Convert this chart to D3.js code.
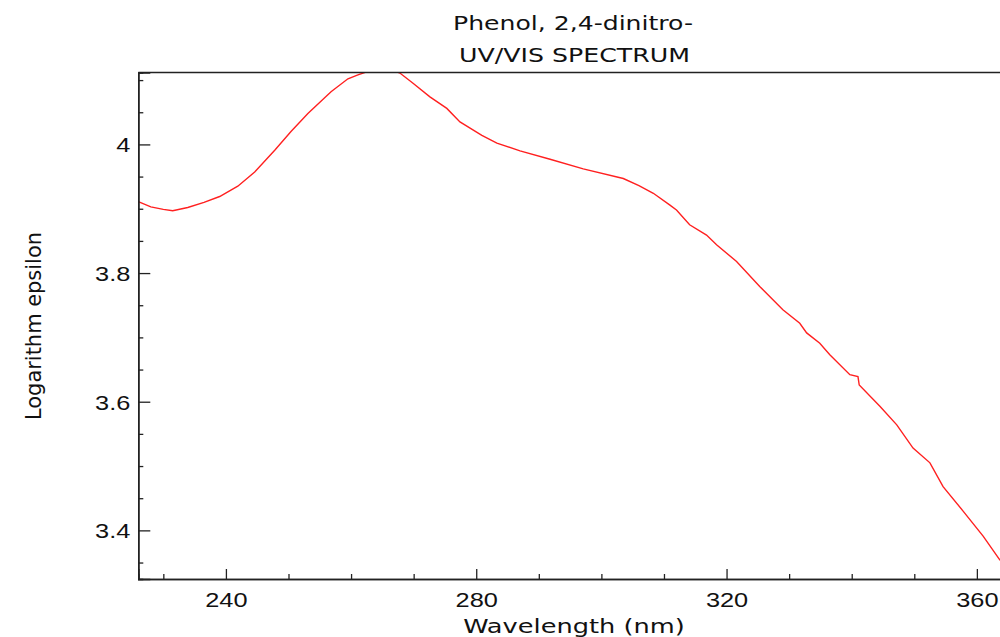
<!DOCTYPE html>
<html>
<head>
<meta charset="utf-8">
<script src="https://cdn.jsdelivr.net/npm/d3@7"></script>
<style>
  body { margin: 0; background: #fff; }
  svg { display: block; font-family: "DejaVu Sans", sans-serif; }
</style>
</head>
<body>
<div class="chart"></div>
<script>
// spectrum
const wavelength = [226, 228, 230, 231.5, 233.9, 236.5, 239, 241.9, 244.6, 247.8, 250.4, 253.1,
    256.8, 259.5, 261.1, 262.5, 264.5, 266.5, 267.8, 269.9, 272.6, 275.3, 277.4, 280.9, 283.3,
    287, 291.8, 297.1, 303.5, 306, 308.3, 310.9, 312, 314.1, 316.8, 318.4, 321.6, 325.3, 329,
    331.7, 332.8, 334.9, 336.5, 339.7, 341, 341.2, 344.5, 347.2, 349.8, 352.5, 354.6, 357.8,
    361, 363.6, 365];
const logEpsilon = [3.911, 3.903, 3.899, 3.897, 3.902, 3.910, 3.919, 3.935, 3.957, 3.991, 4.020, 4.048,
    4.082, 4.102, 4.108, 4.113, 4.118, 4.116, 4.111, 4.095, 4.074, 4.056, 4.035, 4.014, 4.002,
    3.990, 3.977, 3.962, 3.947, 3.936, 3.924, 3.906, 3.898, 3.875, 3.859, 3.844, 3.818, 3.779, 3.743,
    3.722, 3.707, 3.691, 3.673, 3.642, 3.639, 3.626, 3.593, 3.564, 3.528, 3.505, 3.468, 3.430,
    3.391, 3.355, 3.34];

const xMajor = [240, 280, 320, 360];
const xMinor = [230, 250, 260, 270, 290, 300, 310, 330, 340, 350];
const yMajor = [3.4, 3.6, 3.8, 4.0];
const yLabels = ["3.4", "3.6", "3.8", "4"];
const yMinor = [3.35, 3.45, 3.5, 3.55, 3.65, 3.7, 3.75, 3.85, 3.9, 3.95, 4.05, 4.1];

const titleLines = ["Phenol, 2,4-dinitro-", "UV/VIS SPECTRUM"];
const xTitle = "Wavelength (nm)";
const yTitle = "Logarithm epsilon";

const width = 1000, height = 637;
const plotLeft = 138.3, plotTop = 72.5, plotBottom = 579;
const stretch = 1.3; // labels in the picture are drawn wide

const x = d3.scaleLinear().domain([226, 365]).range([plotLeft, plotLeft + 139 * 6.258]);
const y = d3.scaleLinear().domain([3.3244, 4.1118]).range([plotBottom, plotTop]);

const svg = d3.select(".chart").append("svg")
    .attr("width", width)
    .attr("height", height);

svg.append("clipPath").attr("id", "plotclip")
    .append("rect")
    .attr("x", plotLeft).attr("y", plotTop)
    .attr("width", x.range()[1] - plotLeft).attr("height", plotBottom - plotTop);

// spectrum
const pts = wavelength.map((w, i) => [w, logEpsilon[i]]);
svg.append("path")
    .datum(pts)
    .attr("clip-path", "url(#plotclip)")
    .attr("fill", "none")
    .attr("stroke", "#ff2020")
    .attr("stroke-width", 1.4)
    .attr("d", d3.line().x(d => x(d[0])).y(d => y(d[1])));

// top frame line
svg.append("line")
    .attr("x1", plotLeft).attr("x2", width)
    .attr("y1", plotTop).attr("y2", plotTop)
    .attr("stroke", "#222").attr("stroke-width", 1.5);

// x axis
const gx = svg.append("g").attr("transform", `translate(0,${plotBottom})`);
gx.call(d3.axisBottom(x).tickValues(xMinor).tickSize(-5).tickFormat(""));
const gxMajor = svg.append("g").attr("transform", `translate(0,${plotBottom})`);
gxMajor.call(d3.axisBottom(x).tickValues(xMajor).tickSize(-10).tickFormat(d3.format("d")));
gxMajor.selectAll("text")
    .attr("y", 28).attr("dy", null)
    .style("font-size", "19.5px").attr("fill", "#111");

// y axis
const gy = svg.append("g").attr("transform", `translate(${plotLeft},0)`);
gy.call(d3.axisLeft(y).tickValues(yMinor).tickSize(-5).tickFormat(""));
const gyMajor = svg.append("g").attr("transform", `translate(${plotLeft},0)`);
gyMajor.call(d3.axisLeft(y).tickValues(yMajor).tickSize(-12).tickFormat((d, i) => yLabels[i]));
gyMajor.selectAll("text")
    .attr("x", -8).attr("dy", "0.38em")
    .style("font-size", "19.5px").attr("fill", "#111");

svg.selectAll(".domain").attr("stroke", "#222").attr("stroke-width", 1.5);
svg.selectAll(".tick line").attr("stroke", "#222").attr("stroke-width", 1.3);

// widen tick labels like the picture
svg.selectAll(".tick text").each(function () {
    const len = this.getComputedTextLength();
    d3.select(this).attr("textLength", len * stretch).attr("lengthAdjust", "spacingAndGlyphs");
});

// titles
svg.append("text")
    .attr("x", 573).attr("y", 29.5)
    .attr("text-anchor", "middle")
    .style("font-size", "20px").attr("fill", "#111")
    .attr("textLength", 240).attr("lengthAdjust", "spacingAndGlyphs")
    .text(titleLines[0]);
svg.append("text")
    .attr("x", 574.5).attr("y", 61.5)
    .attr("text-anchor", "middle")
    .style("font-size", "20px").attr("fill", "#111")
    .attr("textLength", 231).attr("lengthAdjust", "spacingAndGlyphs")
    .text(titleLines[1]);

svg.append("text")
    .attr("x", 574).attr("y", 633.3)
    .attr("text-anchor", "middle")
    .style("font-size", "19px").attr("fill", "#111")
    .attr("textLength", 221.7).attr("lengthAdjust", "spacingAndGlyphs")
    .text(xTitle);

svg.append("text")
    .attr("transform", "translate(40.5,326) rotate(-90)")
    .attr("text-anchor", "middle")
    .style("font-size", "20.5px").attr("fill", "#111")
    .attr("textLength", 188).attr("lengthAdjust", "spacingAndGlyphs")
    .text(yTitle);
</script>
</body>
</html>
